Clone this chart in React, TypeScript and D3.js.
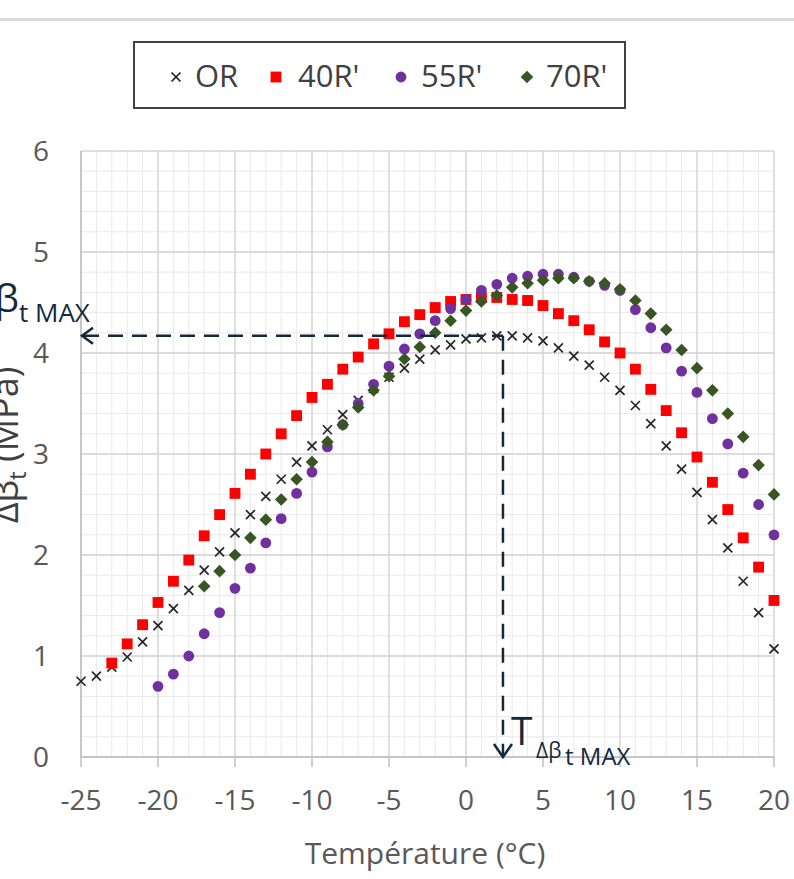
import React from "react";
import * as d3 from "d3";

const temps = d3.range(-25, 21); // -25..20
const orValues = [0.75, 0.80, 0.89, 0.99, 1.14, 1.30, 1.47, 1.65, 1.85, 2.03, 2.22, 2.40, 2.58, 2.75, 2.92, 3.08, 3.24, 3.39, 3.53, 3.65, 3.76, 3.85, 3.94, 4.03, 4.08, 4.14, 4.15, 4.17, 4.17, 4.15, 4.12, 4.05, 3.97, 3.88, 3.76, 3.63, 3.48, 3.30, 3.08, 2.85, 2.62, 2.35, 2.07, 1.74, 1.43, 1.07];
const r40Start = -23;
const r40Values = [0.93, 1.12, 1.31, 1.53, 1.74, 1.95, 2.19, 2.40, 2.61, 2.80, 3.00, 3.20, 3.38, 3.56, 3.69, 3.84, 3.96, 4.09, 4.19, 4.31, 4.38, 4.45, 4.51, 4.53, 4.55, 4.55, 4.53, 4.52, 4.47, 4.39, 4.32, 4.23, 4.11, 4.00, 3.84, 3.64, 3.43, 3.21, 2.97, 2.72, 2.45, 2.17, 1.88, 1.55];
const r55Start = -20;
const r55Values = [0.70, 0.82, 1.00, 1.22, 1.43, 1.67, 1.87, 2.12, 2.36, 2.61, 2.82, 3.07, 3.29, 3.50, 3.69, 3.87, 4.04, 4.19, 4.32, 4.44, 4.53, 4.62, 4.68, 4.74, 4.76, 4.78, 4.78, 4.75, 4.71, 4.67, 4.62, 4.43, 4.25, 4.05, 3.82, 3.61, 3.35, 3.10, 2.81, 2.50, 2.20];
const r70Start = -17;
const r70Values = [1.69, 1.84, 2.00, 2.17, 2.35, 2.55, 2.75, 2.92, 3.12, 3.29, 3.46, 3.63, 3.77, 3.94, 4.06, 4.20, 4.32, 4.42, 4.51, 4.57, 4.65, 4.69, 4.72, 4.74, 4.74, 4.71, 4.69, 4.63, 4.52, 4.39, 4.23, 4.03, 3.85, 3.63, 3.40, 3.17, 2.89, 2.60];

const xTicks = [-25, -20, -15, -10, -5, 0, 5, 10, 15, 20];
const yTicks = [0, 1, 2, 3, 4, 5, 6];
const seriesNames = ["OR", "40R'", "55R'", "70R'"];
const peakT = 2.4;
const peakV = 4.17;

const W = 794;
const H = 879;
const FONT = "'Open Sans', 'Noto Sans', sans-serif";
const ANN = "#13293d";

const x = d3.scaleLinear().domain([-25, 20]).range([81, 774]);
const y = d3.scaleLinear().domain([0, 6]).range([757, 151]);

const toPts = (start: number, vals: number[]) => vals.map((v, i) => ({ t: start + i, v }));

const squarePath = d3.symbol().type(d3.symbolSquare).size(118)() as string;
const circlePath = d3.symbol().type(d3.symbolCircle).size(92)() as string;
const diamondPath = "M0,-6.3L6.3,0L0,6.3L-6.3,0Z";

function Marker({ kind, cx, cy }: { kind: number; cx: number; cy: number }) {
  if (kind === 0) {
    const s = 4.5;
    return (
      <g transform={`translate(${cx},${cy})`} stroke="#262626" strokeWidth={1.7}>
        <line x1={-s} y1={-s} x2={s} y2={s} />
        <line x1={-s} y1={s} x2={s} y2={-s} />
      </g>
    );
  }
  if (kind === 1) return <path d={squarePath} transform={`translate(${cx},${cy})`} fill="#ff0000" />;
  if (kind === 2) return <path d={circlePath} transform={`translate(${cx},${cy})`} fill="#7030a0" />;
  return <path d={diamondPath} transform={`translate(${cx},${cy})`} fill="#375623" />;
}

export default function App() {
  const series = [
    toPts(temps[0], orValues),
    toPts(r40Start, r40Values),
    toPts(r55Start, r55Values),
    toPts(r70Start, r70Values),
  ];
  const minorX = d3.range(-25, 21);
  const minorY = d3.range(0, 30).map((i) => i * 0.2);

  const legendItems = [
    { mx: 176, tx: 195 },
    { mx: 276, tx: 298 },
    { mx: 401, tx: 421 },
    { mx: 527, tx: 546 },
  ];

  const hx0 = 84;
  const hy = y(peakV);
  const vx = x(peakT);

  return (
    <svg width={W} height={H} style={{ position: "absolute", left: 0, top: 0, background: "#fff" }} fontFamily={FONT}>
      <rect x={0} y={0} width={W} height={H} fill="#fff" />
      <rect x={0} y={18} width={W} height={3} fill="#d9d9d9" />

      {/* legend */}
      <rect x={134} y={42} width={491} height={66} fill="#fff" stroke="#404040" strokeWidth={2} />
      {legendItems.map((it, i) => (
        <g key={i}>
          <Marker kind={i} cx={it.mx} cy={77} />
          <text x={it.tx} y={87} fontSize={31} fill="#404040">{seriesNames[i]}</text>
        </g>
      ))}

      {/* grid */}
      {minorX.map((t) => (
        <line key={"mx" + t} x1={x(t)} x2={x(t)} y1={y(6)} y2={y(0)} stroke="#e9e9e9" strokeWidth={1} />
      ))}
      {minorY.map((v, i) => (
        <line key={"my" + i} x1={x(-25)} x2={x(20)} y1={y(v)} y2={y(v)} stroke="#e9e9e9" strokeWidth={1} />
      ))}
      {xTicks.map((t) => (
        <line key={"Mx" + t} x1={x(t)} x2={x(t)} y1={y(6)} y2={y(0)} stroke="#d4d4d4" strokeWidth={1.3} />
      ))}
      {yTicks.map((v) => (
        <line key={"My" + v} x1={x(-25)} x2={x(20)} y1={y(v)} y2={y(v)} stroke="#d4d4d4" strokeWidth={1.3} />
      ))}
      {/* axes */}
      <line x1={x(-25)} x2={x(20)} y1={y(0)} y2={y(0)} stroke="#bfbfbf" strokeWidth={1.5} />
      <line x1={x(-25)} x2={x(-25)} y1={y(6)} y2={y(0)} stroke="#bfbfbf" strokeWidth={1.5} />
      {xTicks.map((t) => (
        <line key={"tk" + t} x1={x(t)} x2={x(t)} y1={y(0)} y2={y(0) + 10} stroke="#bfbfbf" strokeWidth={1.5} />
      ))}
      {xTicks.map((t) => (
        <text key={"xl" + t} x={x(t)} y={810} fontSize={28} fill="#595959" textAnchor="middle">{t}</text>
      ))}
      {yTicks.map((v) => (
        <text key={"yl" + v} x={49} y={y(v) + 10} fontSize={28} fill="#595959" textAnchor="end">{v}</text>
      ))}
      <text x={425} y={864} fontSize={30} fill="#595959" textAnchor="middle">Température (°C)</text>
      <text transform="translate(18,445) rotate(-90)" fontSize={36} fill="#404040" textAnchor="middle">
        Δβ<tspan fontSize={24} dy={8}>t</tspan><tspan dy={-8}> (MPa)</tspan>
      </text>

      {/* data */}
      {series.map((pts, si) => (
        <g key={"s" + si}>
          {pts.map((p) => (
            <Marker key={p.t} kind={si} cx={x(p.t)} cy={y(p.v)} />
          ))}
        </g>
      ))}

      {/* annotation */}
      <g stroke={ANN} strokeWidth={2.5} fill="none">
        <line x1={hx0} x2={vx} y1={hy} y2={hy} strokeDasharray="15 9" />
        <line x1={vx} x2={vx} y1={hy} y2={y(0) - 2} strokeDasharray="15 9" />
        <polyline points={`${x(-25) + 12},${hy - 8} ${x(-25) + 1},${hy} ${x(-25) + 12},${hy + 8}`} />
        <polyline points={`${vx - 9},${y(0) - 13} ${vx},${y(0)} ${vx + 9},${y(0) - 13}`} />
      </g>
      <text x={19} y={312} fontSize={39} fill={ANN} textAnchor="end">Δβ</text>
      <text x={19} y={322} fontSize={26} fill={ANN}>t MAX</text>
      <text x={511} y={745} fontSize={39} fill={ANN}>T</text>
      <text x={536} y={758} fontSize={21} fill={ANN}>Δβ</text>
      <text x={565} y={765} fontSize={24} fill={ANN}>t MAX</text>
    </svg>
  );
}
